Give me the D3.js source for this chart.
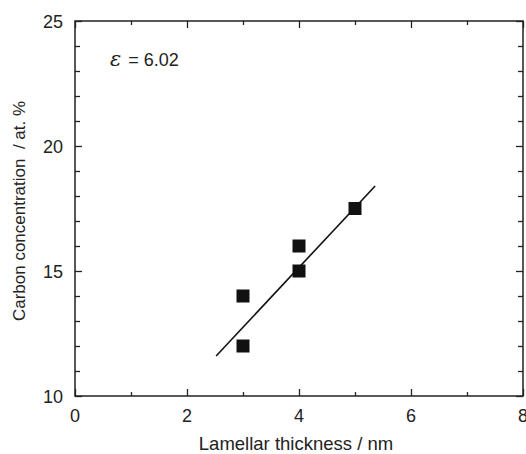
<!DOCTYPE html>
<html>
<head>
<meta charset="utf-8">
<script src="https://cdn.jsdelivr.net/npm/d3@7"></script>
<style>
  body { margin: 0; background: #fff; }
  text { font-family: "Liberation Sans", Arial, sans-serif; fill: #222; }
</style>
</head>
<body>
<script>
let width = 526,
    height = 454;

// measured points
let thickness = [3, 3, 4, 4, 5];
let carbon = [14, 12, 16, 15, 17.5];

// fit line ends
let fitX = [2.52, 5.36];
let fitY = [11.6, 18.4];

let xTicks = [0, 2, 4, 6, 8];
let yTicks = [10, 15, 20, 25];
let annotation = "= 6.02";

let margin = {left: 75, right: 3, top: 21, bottom: 58};

let svg = d3.select('body').append('svg')
    .attr('width', width)
    .attr('height', height);

let x = d3.scaleLinear().domain([0, 8]).range([margin.left, width - margin.right]);
let y = d3.scaleLinear().domain([10, 25]).range([height - margin.bottom, margin.top]);

let minorX = d3.range(0, 9, 1).filter(v => v % 2 !== 0);
let minorY = d3.range(10, 26, 1).filter(v => v % 5 !== 0);

function styleAxis(g) {
    g.select('.domain').remove();
    g.selectAll('line').attr('stroke', '#222').attr('stroke-width', 1.3);
}

// bottom axis, ticks pointing inward
svg.append('g')
    .attr('transform', `translate(0,${y(10)})`)
    .call(d3.axisTop(x).tickValues(xTicks).tickSize(7).tickFormat(''))
    .call(styleAxis);
svg.append('g')
    .attr('transform', `translate(0,${y(10)})`)
    .call(d3.axisTop(x).tickValues(minorX).tickSize(4).tickFormat(''))
    .call(styleAxis);
// top axis
svg.append('g')
    .attr('transform', `translate(0,${y(25)})`)
    .call(d3.axisBottom(x).tickValues(xTicks).tickSize(7).tickFormat(''))
    .call(styleAxis);
svg.append('g')
    .attr('transform', `translate(0,${y(25)})`)
    .call(d3.axisBottom(x).tickValues(minorX).tickSize(4).tickFormat(''))
    .call(styleAxis);
// left axis
svg.append('g')
    .attr('transform', `translate(${x(0)},0)`)
    .call(d3.axisRight(y).tickValues(yTicks).tickSize(7).tickFormat(''))
    .call(styleAxis);
svg.append('g')
    .attr('transform', `translate(${x(0)},0)`)
    .call(d3.axisRight(y).tickValues(minorY).tickSize(5).tickFormat(''))
    .call(styleAxis);
// right axis
svg.append('g')
    .attr('transform', `translate(${x(8)},0)`)
    .call(d3.axisLeft(y).tickValues(yTicks).tickSize(7).tickFormat(''))
    .call(styleAxis);
svg.append('g')
    .attr('transform', `translate(${x(8)},0)`)
    .call(d3.axisLeft(y).tickValues(minorY).tickSize(5).tickFormat(''))
    .call(styleAxis);

// frame
svg.append('rect')
    .attr('x', x(0))
    .attr('y', y(25))
    .attr('width', x(8) - x(0))
    .attr('height', y(10) - y(25))
    .attr('fill', 'none')
    .attr('stroke', '#222')
    .attr('stroke-width', 1.5);

// tick labels
svg.selectAll('.xlab').data(xTicks).enter()
    .append('text')
    .attr('class', 'xlab')
    .attr('x', d => x(d))
    .attr('y', y(10) + 26)
    .attr('text-anchor', 'middle')
    .attr('font-size', 18)
    .text(d => d);

svg.selectAll('.ylab').data(yTicks).enter()
    .append('text')
    .attr('class', 'ylab')
    .attr('x', x(0) - 12)
    .attr('y', d => y(d) + 6.5)
    .attr('text-anchor', 'end')
    .attr('font-size', 18)
    .text(d => d);

// axis titles
svg.append('text')
    .attr('x', 296)
    .attr('y', 450)
    .attr('text-anchor', 'middle')
    .attr('font-size', 18.5)
    .text('Lamellar thickness / nm');

svg.append('text')
    .attr('transform', `translate(25,211) rotate(-90)`)
    .attr('text-anchor', 'middle')
    .attr('font-size', 17)
    .attr('xml:space', 'preserve')
    .text('Carbon concentration  / at. %');

// fit line
svg.append('line')
    .attr('x1', x(fitX[0]))
    .attr('y1', y(fitY[0]))
    .attr('x2', x(fitX[1]))
    .attr('y2', y(fitY[1]))
    .attr('stroke', '#111')
    .attr('stroke-width', 1.6);

// square markers
let size = 13;
svg.selectAll('.pt').data(thickness).enter()
    .append('rect')
    .attr('class', 'pt')
    .attr('x', d => x(d) - size / 2)
    .attr('y', (d, i) => y(carbon[i]) - size / 2)
    .attr('width', size)
    .attr('height', size)
    .attr('fill', '#111');

// annotation
let note = svg.append('text')
    .attr('x', 110)
    .attr('y', 66)
    .attr('font-size', 18);
note.append('tspan')
    .attr('font-family', '"DejaVu Serif", serif')
    .attr('font-style', 'italic')
    .attr('font-size', 21)
    .text('\u03B5');
note.append('tspan')
    .attr('dx', 7)
    .text(annotation);
</script>
</body>
</html>
